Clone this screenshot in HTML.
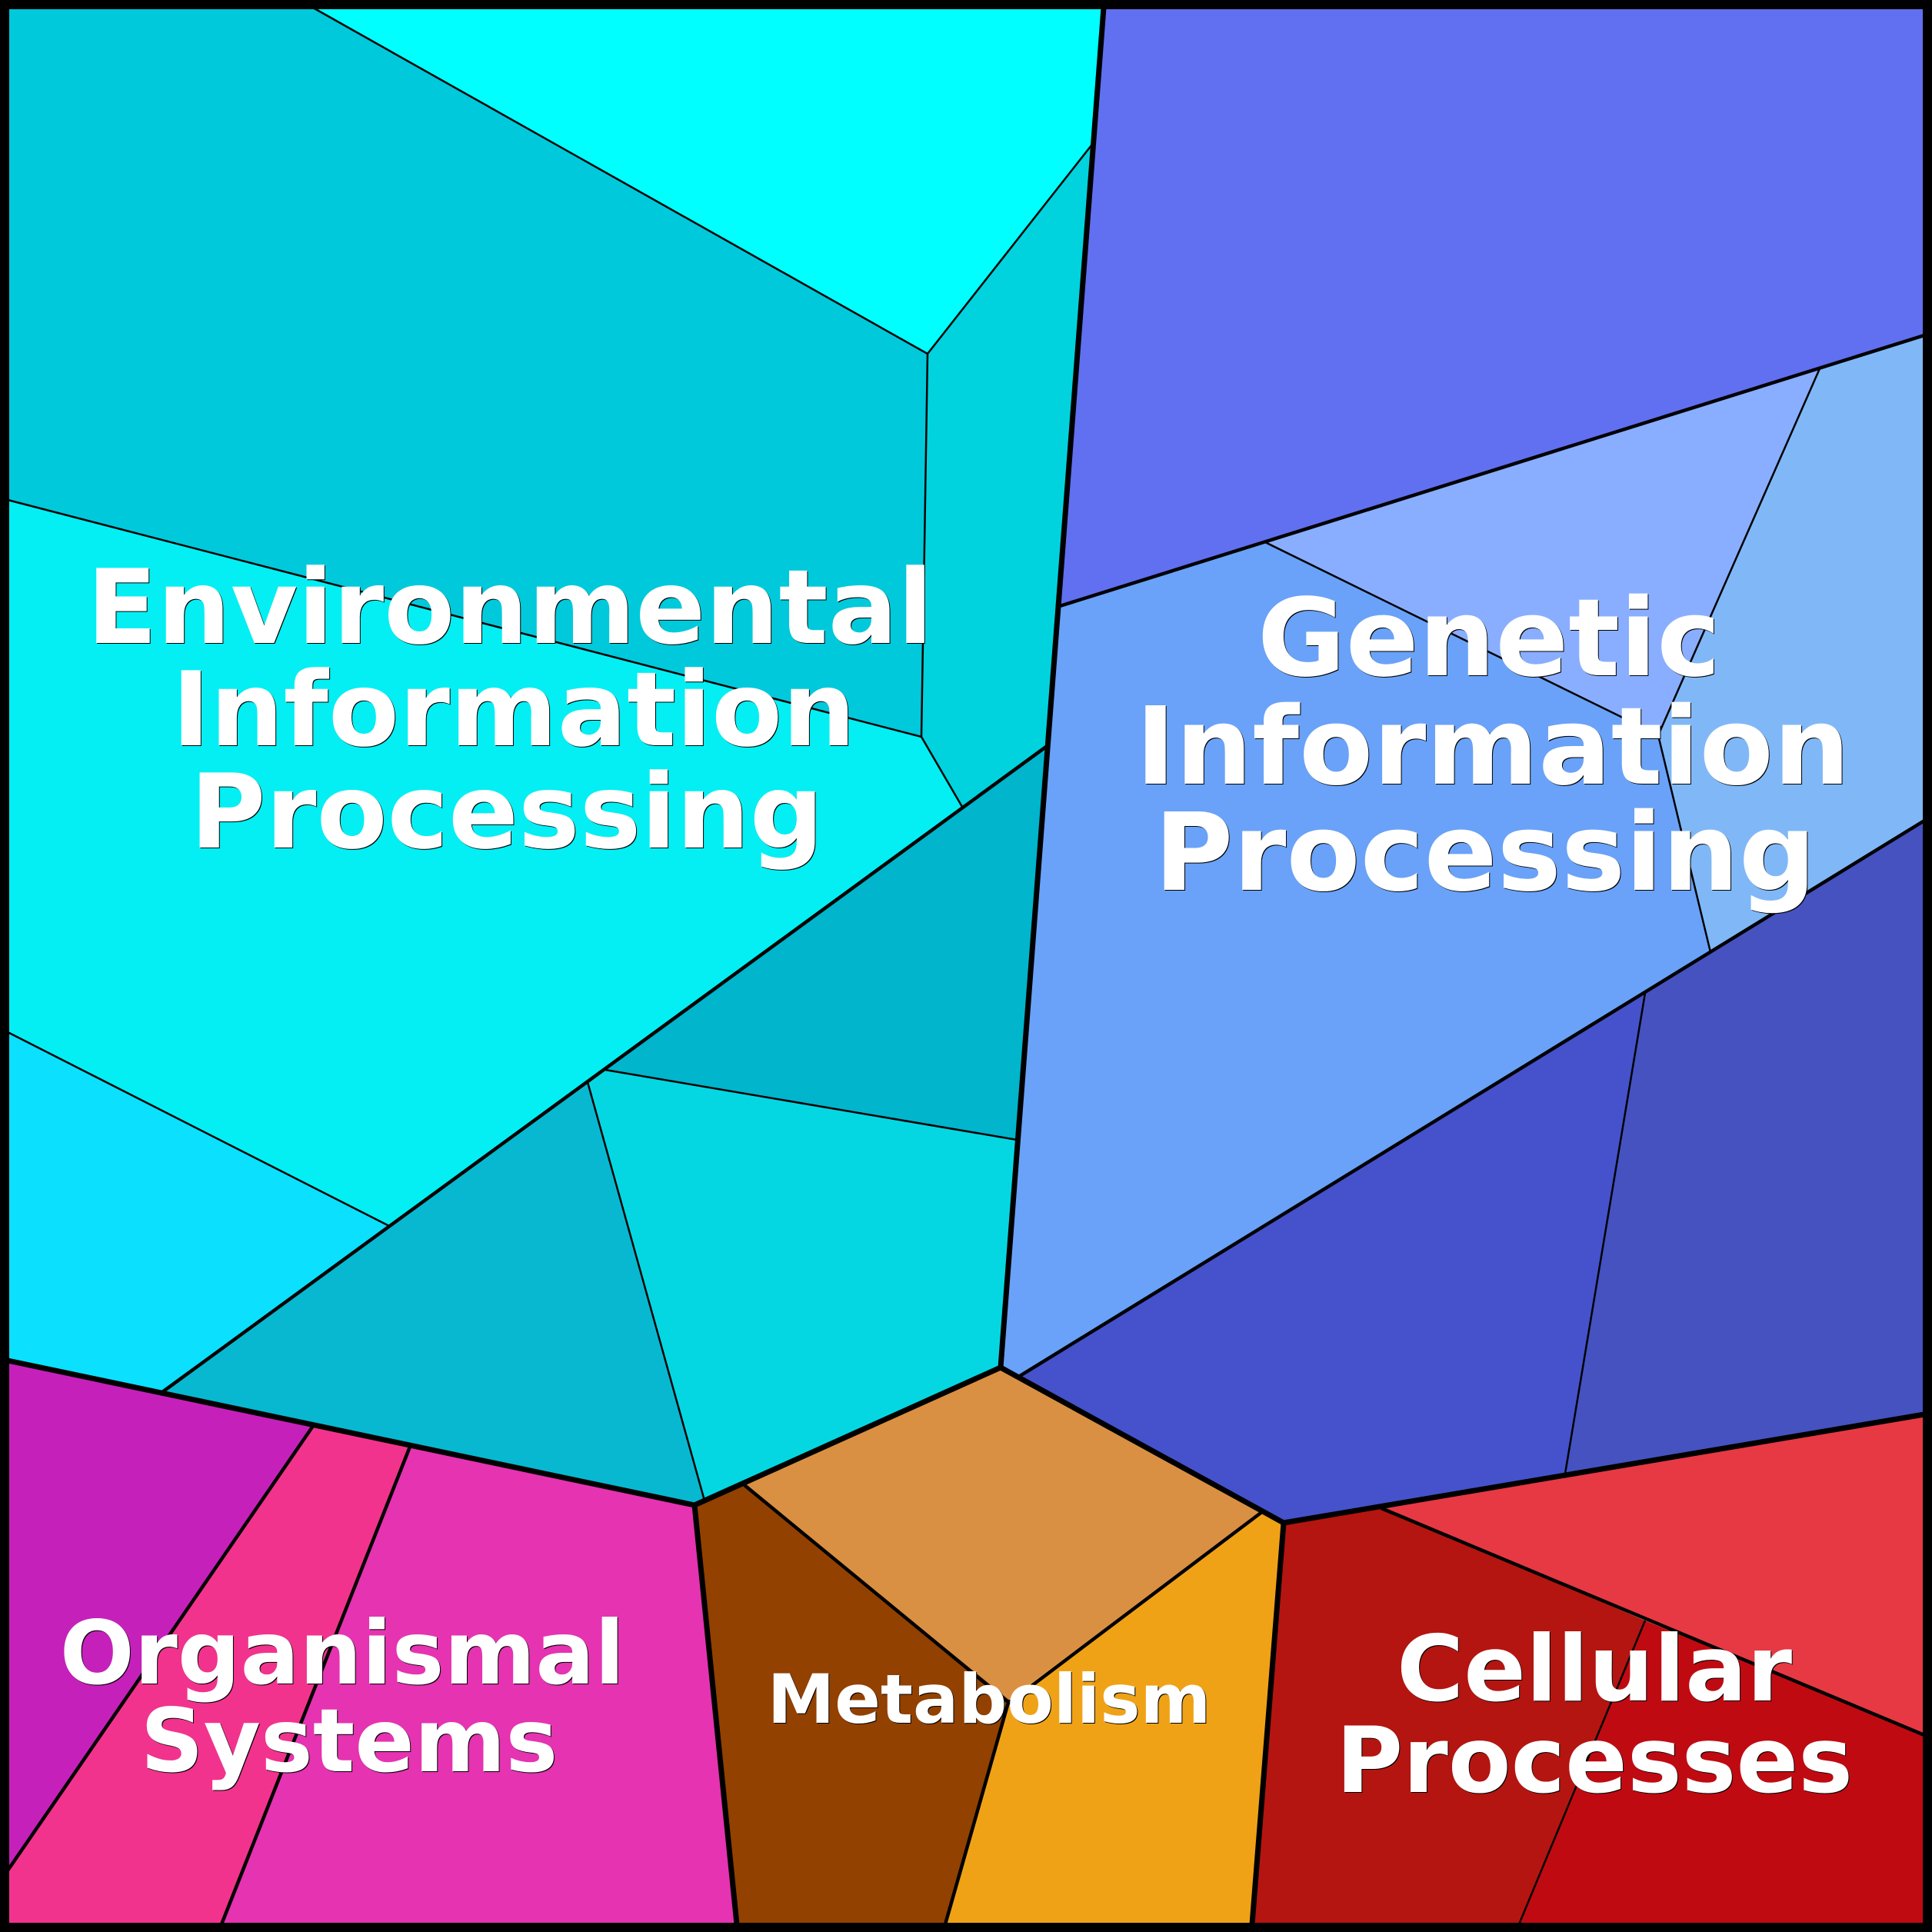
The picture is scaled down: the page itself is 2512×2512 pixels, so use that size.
<!DOCTYPE html>
<html>
<head>
<meta charset="utf-8">
<style>
html,body{margin:0;padding:0;background:#fff}
svg{display:block}
text{font-family:"DejaVu Sans","Liberation Sans",sans-serif;font-weight:bold;fill:#fff;text-anchor:middle;filter:drop-shadow(1px 1px 0 #000)}
.t{stroke:#000;stroke-width:2.5;fill:none}
.m{stroke:#000;stroke-width:4.5;fill:none}
.b{stroke:#000;stroke-width:7;fill:none;stroke-linejoin:miter}
</style>
</head>
<body>
<svg width="2512" height="2512" viewBox="0 0 2512 2512" xmlns="http://www.w3.org/2000/svg">
<!-- Environmental -->
<polygon fill="#00ffff" points="407,10 1435,10 1419,189 1206,460"/>
<polygon fill="#00c9db" points="10,10 407,10 1206,460 1198,958 10,650"/>
<polygon fill="#00d3dd" points="1419,189 1360,971 1251,1049 1198,958 1206,460"/>
<polygon fill="#03eff3" points="10,650 1198,958 1251,1049 506,1594 10,1342"/>
<polygon fill="#0be0ff" points="10,1342 506,1594 211,1810 10,1769"/>
<polygon fill="#00b5cc" points="1360,971 1322,1482 787,1391"/>
<polygon fill="#05d7e2" points="787,1391 1322,1482 1301,1778 916,1951 764,1407"/>
<polygon fill="#08b8d0" points="764,1407 916,1951 903,1957 211,1810"/>
<!-- Genetic -->
<polygon fill="#6070f0" points="1435,10 2502,10 2502,436 1378,788"/>
<polygon fill="#69a2f8" points="1378,788 1645,705 2156,956 2224,1238 1326,1789 1301,1778"/>
<polygon fill="#89aeff" points="1645,705 2367,477 2156,956"/>
<polygon fill="#80b8f7" points="2367,477 2502,436 2502,1067 2224,1238 2156,956"/>
<polygon fill="#4552cc" points="1326,1789 2139,1291 2035,1916 1669,1980"/>
<polygon fill="#4552c0" points="2139,1291 2502,1067 2502,1839 2035,1916"/>
<!-- Organismal -->
<polygon fill="#c620bb" points="10,1769 407,1854 10,2432"/>
<polygon fill="#f2338d" points="407,1854 533,1881 288,2502 10,2502 10,2432"/>
<polygon fill="#e533b1" points="533,1881 903,1957 958,2502 288,2502"/>
<!-- Metabolism -->
<polygon fill="#da9042" points="968,1931 1301,1778 1642,1965 1312,2210"/>
<polygon fill="#924100" points="903,1957 968,1931 1312,2210 1229,2502 958,2502"/>
<polygon fill="#f0a216" points="1642,1965 1669,1980 1628,2502 1229,2502 1312,2210"/>
<!-- Cellular -->
<polygon fill="#e63944" points="1796,1961 2502,1839 2502,2256"/>
<polygon fill="#b41510" points="1669,1980 1796,1961 2139,2107 1975,2502 1628,2502"/>
<polygon fill="#c00a12" points="2139,2107 2502,2256 2502,2502 1975,2502"/>
<!-- thin lines -->
<path class="t" d="M407,10 L1206,460 L1419,189 M1206,460 L1198,958 L10,650 M1198,958 L1251,1049 M506,1594 L10,1342 M787,1391 L1322,1482 M764,1407 L916,1951"/>
<path class="t" d="M1645,705 L2120,938 M2367,477 L2156,956 L2224,1238 M2139,1291 L2035,1916 M2139,2107 L1975,2502"/>
<!-- mid lines -->
<path class="m" d="M211,1810 L1360,971"/>
<path class="m" d="M1378,788 L2502,436 M1326,1789 L2502,1067"/>
<path class="m" d="M407,1854 L10,2432 M533,1881 L288,2502"/>
<path class="m" d="M968,1931 L1312,2214 L1642,1965 M1312,2210 L1229,2502"/>
<path class="m" d="M1796,1961 L2502,2256"/>
<!-- bold lines -->
<path class="b" d="M1435,10 L1301,1778 L903,1957 L10,1769 M903,1957 L958,2502 M1301,1778 L1669,1980 L1628,2502 M1669,1980 L2502,1839"/>
<rect x="6" y="6" width="2500" height="2500" fill="none" stroke="#000" stroke-width="12"/>
<!-- labels -->
<text x="663" y="836" font-size="134">Environmental</text>
<text x="668" y="969" font-size="134">Information</text>
<text x="659" y="1102" font-size="134">Processing</text>
<text x="1936" y="878" font-size="140">Genetic</text>
<text x="1941" y="1019" font-size="140">Information</text>
<text x="1931" y="1157" font-size="140">Processing</text>
<text x="445" y="2189" font-size="114">Organismal</text>
<text x="454" y="2303" font-size="114">Systems</text>
<text x="1286" y="2240" font-size="88">Metabolism</text>
<text x="2073" y="2211" font-size="119">Cellular</text>
<text x="2073" y="2330" font-size="119">Processes</text>
</svg>
</body>
</html>
